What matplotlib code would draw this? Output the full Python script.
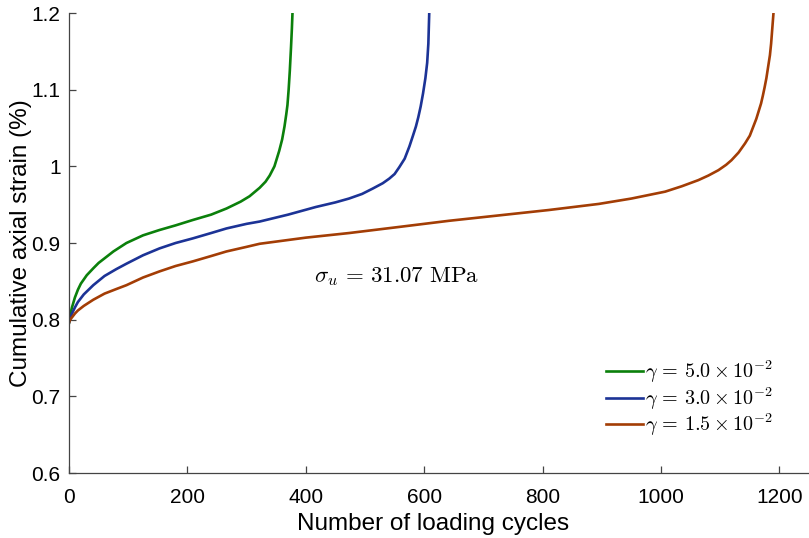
import numpy as np
import matplotlib
matplotlib.use("Agg")
import matplotlib.pyplot as plt

plt.rcParams['font.family'] = ['Liberation Sans', 'DejaVu Sans']
plt.rcParams['mathtext.fontset'] = 'cm'

x_g5 = [0, 2, 5, 10, 15, 20, 30, 41, 50, 60, 75, 97, 125, 153, 180, 209, 240, 266, 290, 305,
        322, 332, 339, 347, 355, 360, 364, 367, 369, 371, 373, 375, 376.5, 377.5]
y_g5 = [0.796, 0.806, 0.816, 0.829, 0.839, 0.847, 0.858, 0.867, 0.874, 0.880, 0.889, 0.900, 0.910,
        0.917, 0.923, 0.930, 0.937, 0.945, 0.954, 0.961, 0.972, 0.980, 0.988, 1.0, 1.02, 1.035,
        1.052, 1.068, 1.08, 1.10, 1.125, 1.155, 1.18, 1.2]

x_g3 = [0, 2, 5, 10, 15, 25, 41, 60, 80, 97, 125, 153, 180, 209, 240, 266, 300, 322, 370, 417,
        450, 473, 495, 513, 530, 541, 550, 558, 567, 575, 581, 586, 590, 594, 598, 602, 605, 607,
        608.5]
y_g3 = [0.796, 0.802, 0.808, 0.816, 0.823, 0.833, 0.845, 0.857, 0.866, 0.873, 0.884, 0.893, 0.900,
        0.906, 0.913, 0.919, 0.925, 0.928, 0.937, 0.947, 0.953, 0.958, 0.964, 0.971, 0.978, 0.984,
        0.990, 0.999, 1.01, 1.026, 1.04, 1.052, 1.064, 1.078, 1.095, 1.115, 1.135, 1.16, 1.2]

x_g15 = [0, 2, 5, 10, 15, 25, 41, 60, 80, 97, 125, 153, 180, 209, 240, 266, 300, 322, 400, 473,
         558, 642, 726, 810, 895, 950, 1007, 1035, 1063, 1080, 1097, 1110, 1119, 1131, 1142, 1150,
         1156, 1161, 1165, 1169, 1172, 1175, 1178, 1181, 1184, 1186, 1188, 1190]
y_g15 = [0.796, 0.80, 0.803, 0.808, 0.812, 0.818, 0.826, 0.834, 0.840, 0.845, 0.855, 0.863, 0.870,
         0.876, 0.883, 0.889, 0.895, 0.899, 0.907, 0.913, 0.921, 0.929, 0.936, 0.943, 0.951, 0.958,
         0.967, 0.974, 0.982, 0.988, 0.995, 1.002, 1.008, 1.018, 1.030, 1.040, 1.052, 1.062, 1.072,
         1.082, 1.092, 1.103, 1.115, 1.13, 1.145, 1.16, 1.18, 1.2]

labels = [r'$\gamma\,=\,5.0\times10^{-2}$', r'$\gamma\,=\,3.0\times10^{-2}$',
          r'$\gamma\,=\,1.5\times10^{-2}$']
colors = ['#0b800b', '#1c3396', '#a33d05']

fig = plt.figure(figsize=(8.09, 5.38), dpi=100)
ax = fig.add_axes([0.0853, 0.1208, 0.9147, 0.855])

for xs, ys, lab, c in zip([x_g5, x_g3, x_g15], [y_g5, y_g3, y_g15], labels, colors):
    ax.plot(xs, ys, color=c, lw=1.9, label=lab, solid_joinstyle='round')

ax.set_xlim(0, 1250)
ax.set_ylim(0.6, 1.2)
ax.set_xticks([0, 200, 400, 600, 800, 1000, 1200])
ax.set_yticks([0.6, 0.7, 0.8, 0.9, 1.0, 1.1, 1.2])
ax.set_yticklabels(['0.6', '0.7', '0.8', '0.9', '1', '1.1', '1.2'])

for s in ['top', 'right']:
    ax.spines[s].set_visible(False)
for s in ['left', 'bottom']:
    ax.spines[s].set_color('#444444')
    ax.spines[s].set_linewidth(0.9)
ax.tick_params(direction='in', length=5, width=0.9, color='#444444', labelsize=15)
ax.tick_params(axis='x', pad=11)
ax.tick_params(axis='y', pad=6)

ax.set_xlabel('Number of loading cycles', fontsize=17.5)
ax.xaxis.set_label_coords(0.492, -0.088)
ax.set_ylabel('Cumulative axial strain (%)', fontsize=17.5, labelpad=0)

ax.text(414, 0.856, r'$\sigma_u\,=\,31.07\ \mathrm{MPa}$', fontsize=16.5, va='center', ha='left')

ax.legend(loc='center', bbox_to_anchor=(0.838, 0.162), frameon=False, fontsize=14.5,
          handlelength=1.85, handletextpad=0.1, labelspacing=0.0)

fig.savefig('out.png', dpi=100)
